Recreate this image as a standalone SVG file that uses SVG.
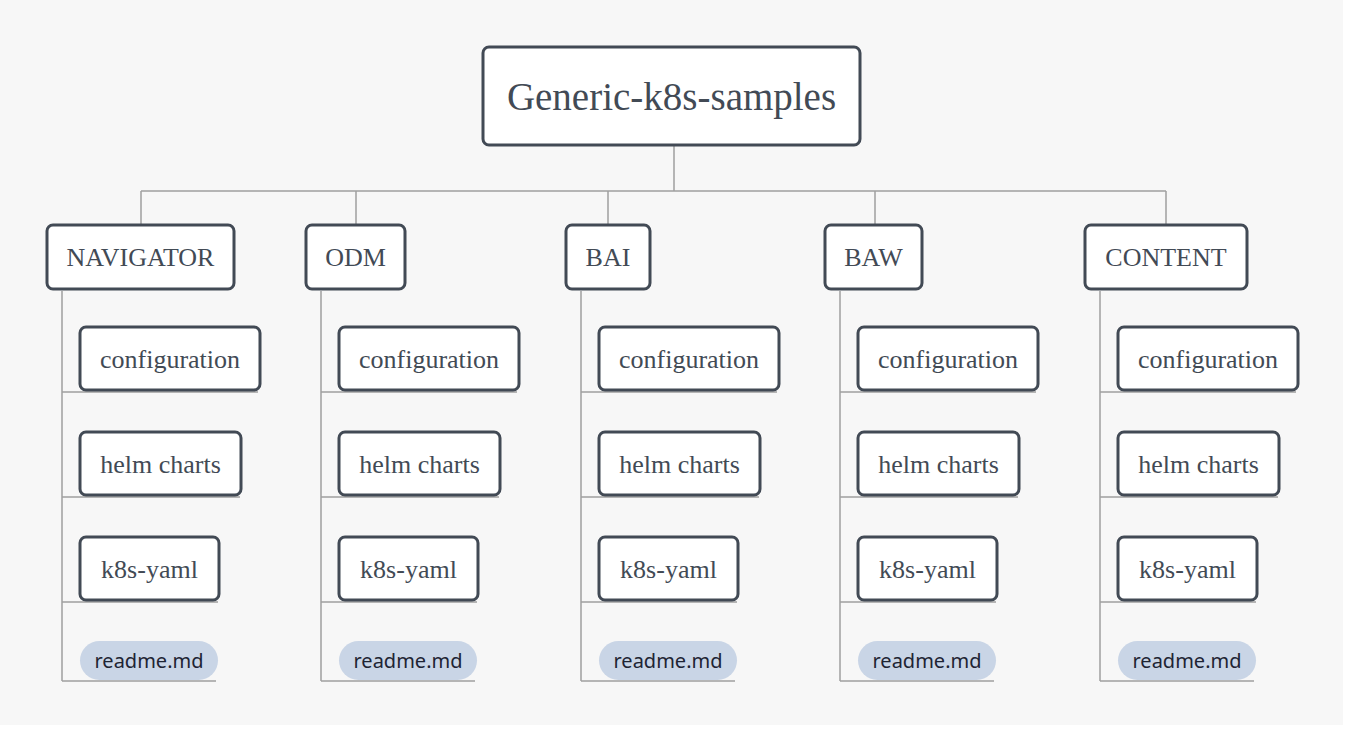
<svg xmlns="http://www.w3.org/2000/svg" width="1351" height="730" viewBox="0 0 1351 730">
<style>
.box{fill:#ffffff;stroke:#424a55;stroke-width:3}
.t{font-family:"Liberation Serif",serif;fill:#424a55;font-size:26px;text-anchor:middle}
.tl{font-family:"Liberation Serif",serif;fill:#424a55;font-size:26px}
.pill{fill:#c9d5e6}
.pt{font-family:"Noto Sans",sans-serif;fill:#1e2433;font-size:20px;text-anchor:middle}
.ln{stroke:#a0a0a0;stroke-width:1.5;fill:none}
</style>
<rect x="0" y="0" width="1343" height="725" fill="#f7f7f7"/>
<g id="connectors">
<path class="ln" d="M674,146V191M141,191H1166M141,191V225M356,191V225M608,191V225M875,191V225M1166,191V225"/>
<path class="ln" d="M62,291V681M62,392H258M62,497H240M62,602H218M62,681H216"/>
<path class="ln" d="M321,291V681M321,392H517M321,497H499M321,602H477M321,681H475"/>
<path class="ln" d="M581,291V681M581,392H777M581,497H759M581,602H737M581,681H735"/>
<path class="ln" d="M840,291V681M840,392H1036M840,497H1018M840,602H996M840,681H994"/>
<path class="ln" d="M1100,291V681M1100,392H1296M1100,497H1278M1100,602H1256M1100,681H1254"/>
</g>
<g id="root"><rect class="box" x="483" y="47" width="377" height="98" rx="6"/><text class="t" x="671.5" y="110" style="font-size:39px">Generic-k8s-samples</text></g>

<g id="navigator"><rect class="box" x="47" y="225" width="187" height="64" rx="6"/><text class="t" x="140.5" y="266">NAVIGATOR</text></g>
<g id="odm"><rect class="box" x="306" y="225" width="99" height="64" rx="6"/><text class="t" x="355.5" y="266">ODM</text></g>
<g id="bai"><rect class="box" x="566" y="225" width="84" height="64" rx="6"/><text class="t" x="608" y="266">BAI</text></g>
<g id="baw"><rect class="box" x="825" y="225" width="97" height="64" rx="6"/><text class="t" x="873.5" y="266">BAW</text></g>
<g id="content"><rect class="box" x="1085" y="225" width="162" height="64" rx="6"/><text class="t" x="1166" y="266">CONTENT</text></g>

<g id="nav-config"><rect class="box" x="80" y="327" width="180" height="63" rx="6"/><text class="t" x="170" y="368">configuration</text></g>
<g id="nav-helm"><rect class="box" x="80" y="432" width="161" height="63" rx="6"/><text class="t" x="160.5" y="473">helm charts</text></g>
<g id="nav-k8s"><rect class="box" x="80" y="537" width="139" height="63" rx="6"/><text class="t" x="149.5" y="578">k8s-yaml</text></g>
<g id="nav-readme"><rect class="pill" x="80" y="641" width="138" height="39" rx="19.5"/><text class="pt" x="149" y="668">readme.md</text></g>

<g id="odm-config"><rect class="box" x="339" y="327" width="180" height="63" rx="6"/><text class="t" x="429" y="368">configuration</text></g>
<g id="odm-helm"><rect class="box" x="339" y="432" width="161" height="63" rx="6"/><text class="t" x="419.5" y="473">helm charts</text></g>
<g id="odm-k8s"><rect class="box" x="339" y="537" width="139" height="63" rx="6"/><text class="t" x="408.5" y="578">k8s-yaml</text></g>
<g id="odm-readme"><rect class="pill" x="339" y="641" width="138" height="39" rx="19.5"/><text class="pt" x="408" y="668">readme.md</text></g>

<g id="bai-config"><rect class="box" x="599" y="327" width="180" height="63" rx="6"/><text class="t" x="689" y="368">configuration</text></g>
<g id="bai-helm"><rect class="box" x="599" y="432" width="161" height="63" rx="6"/><text class="t" x="679.5" y="473">helm charts</text></g>
<g id="bai-k8s"><rect class="box" x="599" y="537" width="139" height="63" rx="6"/><text class="t" x="668.5" y="578">k8s-yaml</text></g>
<g id="bai-readme"><rect class="pill" x="599" y="641" width="138" height="39" rx="19.5"/><text class="pt" x="668" y="668">readme.md</text></g>

<g id="baw-config"><rect class="box" x="858" y="327" width="180" height="63" rx="6"/><text class="t" x="948" y="368">configuration</text></g>
<g id="baw-helm"><rect class="box" x="858" y="432" width="161" height="63" rx="6"/><text class="t" x="938.5" y="473">helm charts</text></g>
<g id="baw-k8s"><rect class="box" x="858" y="537" width="139" height="63" rx="6"/><text class="t" x="927.5" y="578">k8s-yaml</text></g>
<g id="baw-readme"><rect class="pill" x="858" y="641" width="138" height="39" rx="19.5"/><text class="pt" x="927" y="668">readme.md</text></g>

<g id="content-config"><rect class="box" x="1118" y="327" width="180" height="63" rx="6"/><text class="t" x="1208" y="368">configuration</text></g>
<g id="content-helm"><rect class="box" x="1118" y="432" width="161" height="63" rx="6"/><text class="t" x="1198.5" y="473">helm charts</text></g>
<g id="content-k8s"><rect class="box" x="1118" y="537" width="139" height="63" rx="6"/><text class="t" x="1187.5" y="578">k8s-yaml</text></g>
<g id="content-readme"><rect class="pill" x="1118" y="641" width="138" height="39" rx="19.5"/><text class="pt" x="1187" y="668">readme.md</text></g>
</svg>
